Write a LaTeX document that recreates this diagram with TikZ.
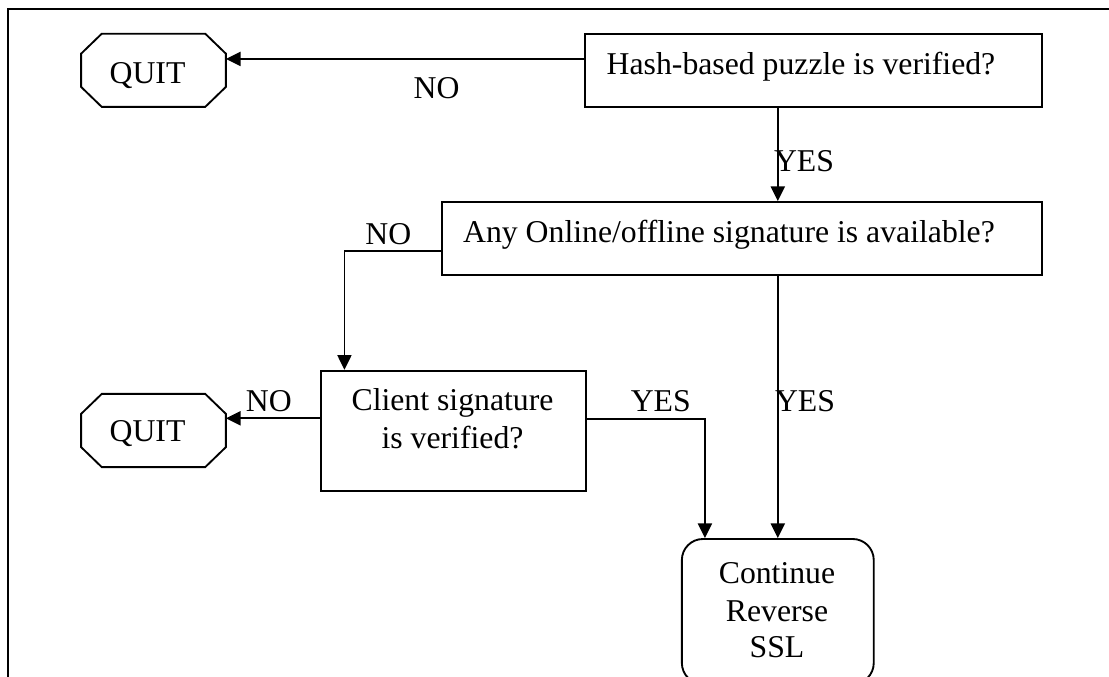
\documentclass[tikz,border=0pt]{standalone}
\usepackage{fontspec}
\setmainfont{Liberation Serif}
\usetikzlibrary{arrows.meta,calc}
\tikzset{
  lbl/.style={font=\fontsize{23.8}{27.75}\selectfont, inner sep=0pt, anchor=base},
  boxshape/.style={draw, line width=1.4pt, inner sep=0pt},
  quitshape/.style={inner sep=0pt, minimum width=108.2pt, minimum height=54.5pt},
  octline/.style={line width=1.4pt, line join=miter},
  arr/.style={line width=1.4pt, -{Triangle[length=11pt,width=10.5pt]}},
  frameline/.style={line width=1.6pt}
}
\newcommand\octoshape[1]{%
  \draw[octline] ([xshift=15.5pt]#1.north west) -- ([xshift=-15.5pt]#1.north east)
    -- ([yshift=-15pt]#1.north east) -- ([yshift=15pt]#1.south east)
    -- ([xshift=-15.5pt]#1.south east) -- ([xshift=15.5pt]#1.south west)
    -- ([yshift=15pt]#1.south west) -- ([yshift=-15pt]#1.north west) -- cycle;}
\begin{document}
\begin{tikzpicture}[x=0.75pt,y=-0.75pt]
\useasboundingbox (0,0) rectangle (1109,677);
\clip (0,0) rectangle (1109,677);
% frame
\draw[frameline] (7.9,680) -- (7.9,9.3) -- (1112,9.3);

% boxes
\node[boxshape, minimum width=343pt, minimum height=54.5pt] (hash) at (813.6,70.3) {};
\node[boxshape, minimum width=450.4pt, minimum height=54.4pt] (any) at (742,238.3) {};
\node[boxshape, minimum width=198.2pt, minimum height=90pt] (client) at (453.5,430.7) {};
\node[boxshape, rounded corners=15.75pt, minimum width=143.9pt, minimum height=108.75pt] (cont) at (777.8,611.5) {};
\node[quitshape] (quit1) at (153.5,70.3) {};
\node[quitshape] (quit2) at (153.5,430.5) {};
\octoshape{quit1}
\octoshape{quit2}

% texts
\node[lbl] (hashtext) at (801,75) {Hash-based puzzle is verified?};
\node[lbl] (anytext) at (729,242.7) {Any Online/offline signature is available?};
\node[lbl] (clienttexta) at (452.5,410) {Client signature};
\node[lbl] (clienttextb) at (452.5,448.3) {is verified?};
\node[lbl] (conttexta) at (777,583.3) {Continue};
\node[lbl] (conttextb) at (777,621) {Reverse};
\node[lbl] (conttextc) at (777,657.7) {SSL};
\node[lbl] (quittexta) at (147.5,83.3) {QUIT};
\node[lbl] (quittextb) at (147.5,441.7) {QUIT};

% connectors
\draw[arr] ([yshift=8.5pt]hash.west) -- ([yshift=8.5pt]hash.west -| quit1.east);
\draw[arr] (hash.south -| cont.north) -- (any.north -| cont.north);
\draw[arr] (any.south -| cont.north) -- (cont.north);
\draw[arr] ([yshift=-9.3pt]any.west) -| ([xshift=18pt]client.north west);
\draw[arr] ([yshift=9.3pt]client.west) -- ([yshift=9.3pt]client.west -| quit2.east);
\draw[arr] ([yshift=8.8pt]client.east) -| ([xshift=18pt]cont.north west);

% connector labels
\node[lbl] (no1) at (436.6,99) {NO};
\node[lbl] (yes1) at (804,171.7) {YES};
\node[lbl] (no2) at (388.4,244) {NO};
\node[lbl] (no3) at (268.8,411.7) {NO};
\node[lbl] (yes2) at (660.8,411.7) {YES};
\node[lbl] (yes3) at (805,411.7) {YES};
\end{tikzpicture}
\end{document}
